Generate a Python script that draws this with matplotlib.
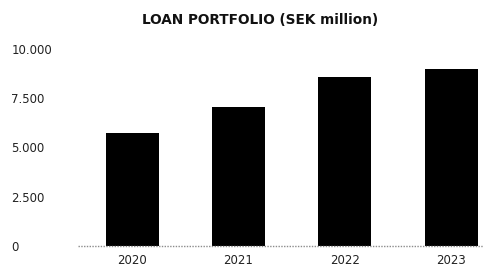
import matplotlib.pyplot as plt

years = ["2020", "2021", "2022", "2023"]
loans = [5710, 7040, 8590, 8970]
yticks = [0, 2500, 5000, 7500, 10000]
ytick_labels = ["0", "2.500", "5.000", "7.500", "10.000"]

fig = plt.figure(figsize=(4.93, 2.66), dpi=100)
ax = fig.add_axes([0.158, 0.076, 0.822, 0.740])

x = range(len(years))
ax.bar(x, loans, width=0.5, color="black", zorder=2)

# dotted baseline like the original
ax.axhline(0, color="#8c8c8c", linestyle=(0, (1, 1)), linewidth=1.0,
           zorder=3, clip_on=False)

ax.set_xlim(-0.51, 3.3)
ax.set_ylim(0, 10000)
ax.set_xticks(list(x))
ax.set_xticklabels(years, fontsize=8.5, color="#222222")
ax.set_yticks(yticks)
ax.set_yticklabels(ytick_labels, fontsize=8.5, color="#222222", ha="left")
ax.tick_params(axis="y", length=0, pad=48)
ax.tick_params(axis="x", length=0, pad=6)
for s in ax.spines.values():
    s.set_visible(False)

fig.text(0.527, 0.925, "LOAN PORTFOLIO (SEK million)", ha="center", va="center",
         fontsize=9.8, fontweight="bold", color="#111111")

fig.savefig("out.png", dpi=100)
